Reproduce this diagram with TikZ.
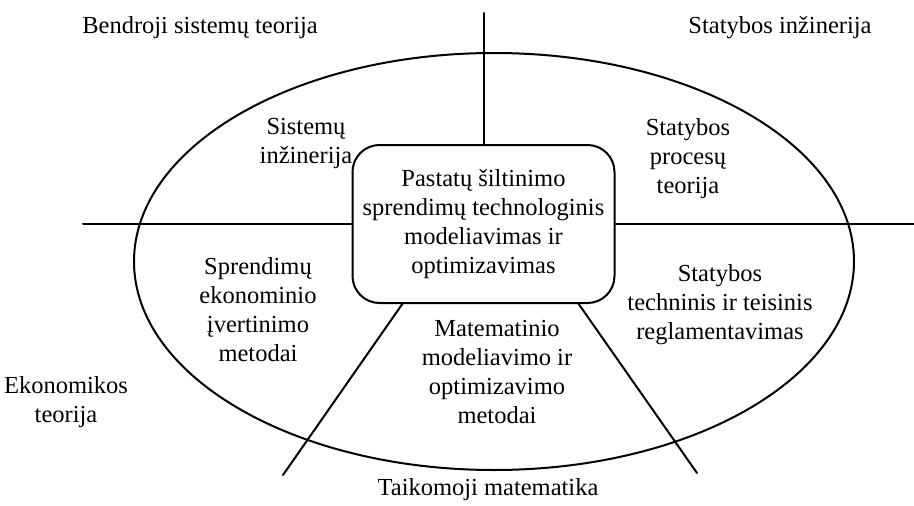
\documentclass[tikz,border=0pt]{standalone}
\usepackage{fontspec}
\setmainfont{Liberation Serif}
\begin{document}
\begin{tikzpicture}[x=1pt,y=-1pt,
  rule/.style={line width=2pt,line cap=round},
  label/.style={align=center,inner sep=0pt,font=\fontsize{24.5}{29}\selectfont},
  corebox/.style={draw,line width=2pt,rounded corners=27pt,fill=white,
    minimum width=262pt,minimum height=158pt,inner sep=0pt,align=center,
    font=\fontsize{24.5}{29}\selectfont}]
\useasboundingbox (0,0) rectangle (914,506);

% outer field ellipse
\draw[rule] (494,261.5) ellipse [x radius=360pt, y radius=208.5pt];

% central topic
\node[corebox] (core) at (483.5,224) {Pastatų šiltinimo\\sprendimų technologinis\\modeliavimas ir\\optimizavimas};

% free ends of the dividing lines
\coordinate (topend) at (483.5,13);
\coordinate (leftend) at (83,224);
\coordinate (rightend) at (914,224);
\coordinate (dlstart) at (403,303);
\coordinate (drstart) at (578,303);
\coordinate (dlend) at (283,475);
\coordinate (drend) at (697,473);

\draw[rule] (core.north) -- (topend);
\draw[rule] (core.west) -- (leftend);
\draw[rule] (core.east) -- (rightend);
\draw[rule] (dlstart) -- (dlend);
\draw[rule] (drstart) -- (drend);

% inner fields
\node[label] (sis) at (306,143) {Sistemų\\inžinerija};
\node[label] (stp) at (688,159) {Statybos\\procesų\\teorija};
\node[label] (spr) at (258,310) {Sprendimų\\ekonominio\\įvertinimo\\metodai};
\node[label] (str) at (720,305) {Statybos\\techninis ir teisinis\\reglamentavimas};
\node[label] (mat) at (497,372) {Matematinio\\modeliavimo ir\\optimizavimo\\metodai};

% outer disciplines
\node[label] (bst) at (200,28) {Bendroji sistemų teorija};
\node[label] (sin) at (780,28) {Statybos inžinerija};
\node[label] (eko) at (66,402) {Ekonomikos\\teorija};
\node[label] (tma) at (488,490) {Taikomoji matematika};
\end{tikzpicture}
\end{document}
